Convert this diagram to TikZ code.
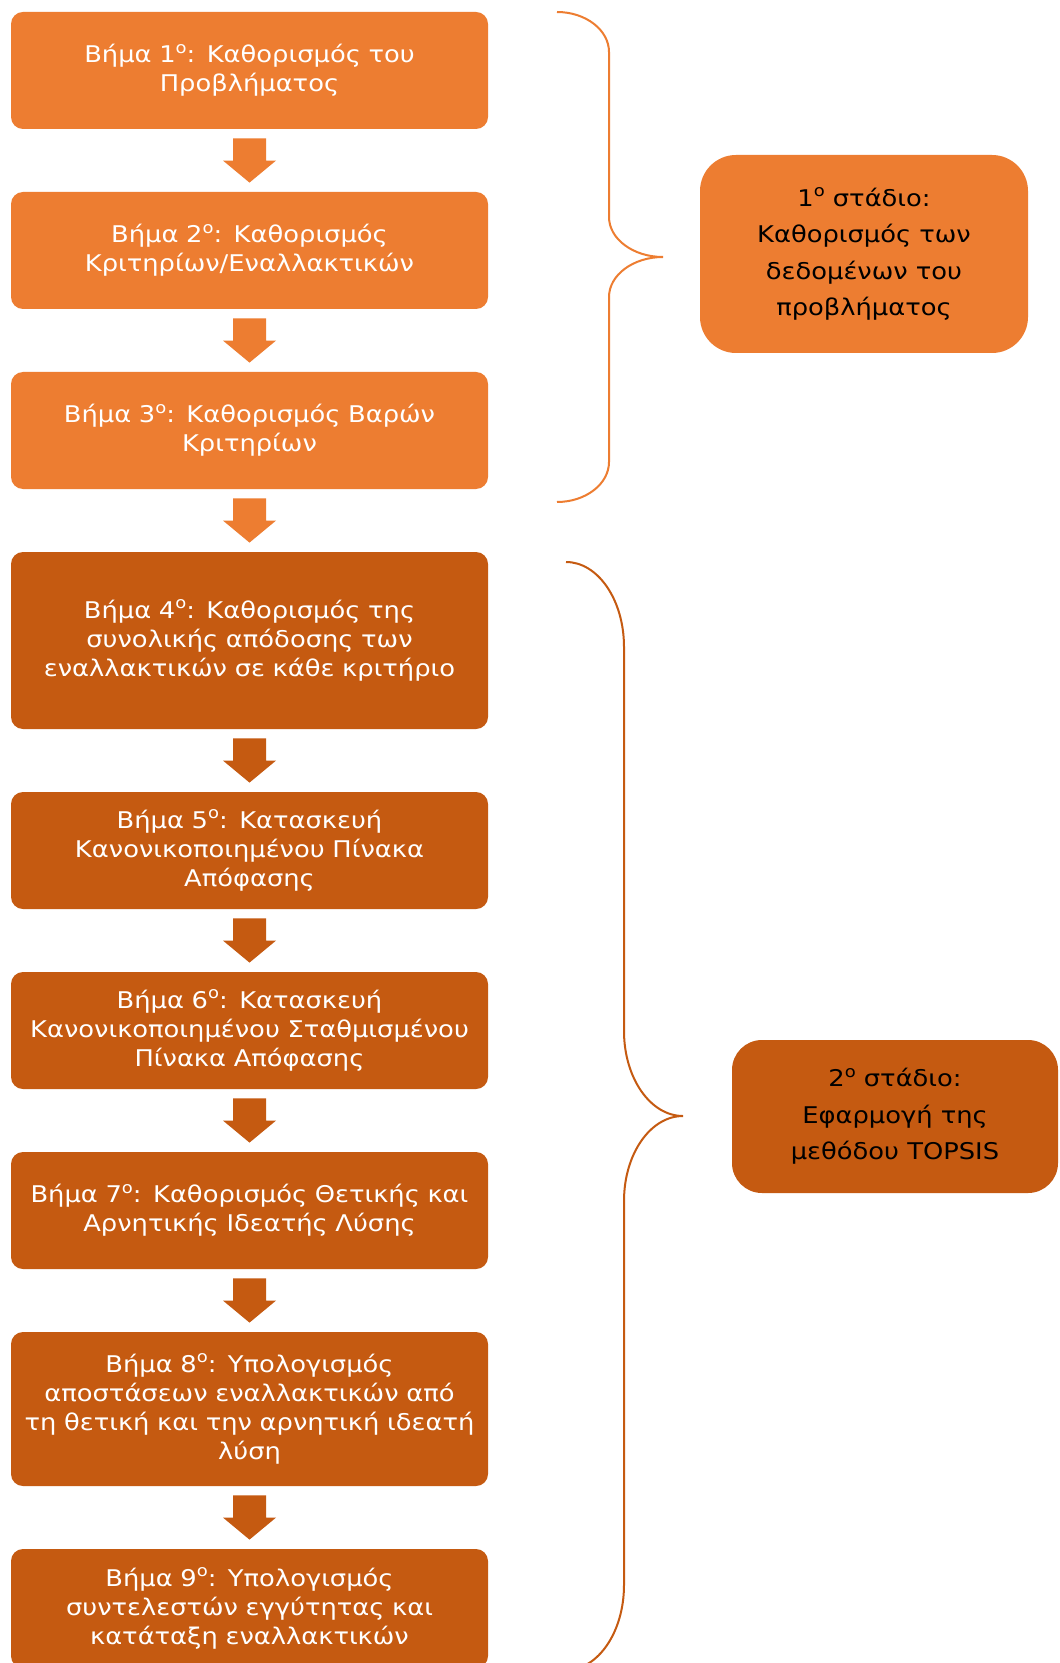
\documentclass[tikz,border=0pt]{standalone}
\usepackage{fontspec}
\setmainfont{DejaVu Sans}[FakeStretch=1.12]
\usetikzlibrary{calc}
\definecolor{lite}{HTML}{ED7D31}
\definecolor{dark}{HTML}{C55A11}
% small raised ordinal indicator
\newcommand\ordsup[1]{\raisebox{0.75ex}{\fontsize{8}{8}\selectfont #1}}
% block arrow between two stacked boxes
\newcommand\flowarrow[3]{%
  \fill[#3] let \p1=(#1.south), \p2=(#2.north) in
    (\x1-8.25pt,\y1-4.5pt) -- (\x1+8.25pt,\y1-4.5pt) -- (\x1+8.25pt,\y2+15.5pt)
    -- (\x1+13.25pt,\y2+15.5pt) -- (\x1,\y2+4.5pt) -- (\x1-13.25pt,\y2+15.5pt)
    -- (\x1-8.25pt,\y2+15.5pt) -- cycle;}
\begin{document}
\begin{tikzpicture}[x=0.5pt,y=-0.5pt,
  stepbox/.style={rounded corners=6pt, minimum width=238.5pt, minimum height=58.5pt,
    inner sep=0pt, text width=236pt, align=center, text=white,
    font=\fontsize{11.5}{14.5}\selectfont},
  litebox/.style={stepbox, fill=lite},
  darkbox/.style={stepbox, fill=dark},
  stagebox/.style={inner sep=0pt, align=center, text=black,
    font=\fontsize{11.5}{18.25}\selectfont},
  bracket/.style={line width=1pt}]
\useasboundingbox[fill=white] (0,0) rectangle (1059,1663);

% steps of the first stage
\node[litebox] (b1) at (249.5,70.5) {Βήμα 1\ordsup{ο}: Καθορισμός του\\Προβλήματος};
\node[litebox] (b2) at (249.5,250.5) {Βήμα 2\ordsup{ο}: Καθορισμός\\Κριτηρίων/Εναλλακτικών};
\node[litebox] (b3) at (249.5,430.5) {Βήμα 3\ordsup{ο}: Καθορισμός Βαρών\\Κριτηρίων};

% steps of the second stage
\node[darkbox, minimum height=88.5pt] (b4) at (249.5,640.5)
  {Βήμα 4\ordsup{ο}: Καθορισμός της\\συνολικής απόδοσης των\\εναλλακτικών σε κάθε κριτήριο};
\node[darkbox] (b5) at (249.5,850.5) {Βήμα 5\ordsup{ο}: Κατασκευή\\Κανονικοποιημένου Πίνακα\\Απόφασης};
\node[darkbox] (b6) at (249.5,1030.5) {Βήμα 6\ordsup{ο}: Κατασκευή\\Κανονικοποιημένου Σταθμισμένου\\Πίνακα Απόφασης};
\node[darkbox] (b7) at (249.5,1210.5) {Βήμα 7\ordsup{ο}: Καθορισμός Θετικής και\\Αρνητικής Ιδεατής Λύσης};
\node[darkbox, minimum height=77pt] (b8) at (249.5,1409)
  {Βήμα 8\ordsup{ο}: Υπολογισμός\\αποστάσεων εναλλακτικών από\\τη θετική και την αρνητική ιδεατή\\λύση};
\node[darkbox, minimum height=59.5pt] (b9) at (249.5,1608.5)
  {Βήμα 9\ordsup{ο}: Υπολογισμός\\συντελεστών εγγύτητας και\\κατάταξη εναλλακτικών};

% arrows between the steps
\flowarrow{b1}{b2}{lite}
\flowarrow{b2}{b3}{lite}
\flowarrow{b3}{b4}{lite}
\flowarrow{b4}{b5}{dark}
\flowarrow{b5}{b6}{dark}
\flowarrow{b6}{b7}{dark}
\flowarrow{b7}{b8}{dark}
\flowarrow{b8}{b9}{dark}

% stage labels
\node[stagebox, fill=lite, rounded corners=18pt, minimum width=164pt, minimum height=99pt] (s1)
  at (864,254) {1\ordsup{ο} στάδιο:\\Καθορισμός των\\δεδομένων του\\προβλήματος};
\node[stagebox, fill=dark, rounded corners=15pt, minimum width=163pt, minimum height=76.5pt] (s2)
  at (895,1116.5) {2\ordsup{ο} στάδιο:\\Εφαρμογή της\\μεθόδου TOPSIS};

% brackets grouping the steps
\coordinate (t1) at (663,257);
\draw[bracket, lite] (557,12) .. controls (585.7,12) and (609,30) .. (609,52)
  -- (609,217) .. controls (609,239) and (633.2,257) .. (t1)
  .. controls (633.2,257) and (609,275) .. (609,297)
  -- (609,462) .. controls (609,484) and (585.7,502) .. (557,502);
\coordinate (t2) at (683,1116);
\draw[bracket, dark] (566,562) .. controls (598,562) and (624,600) .. (624,647)
  -- (624,1031) .. controls (624,1078) and (650.4,1116) .. (t2)
  .. controls (650.4,1116) and (624,1154) .. (624,1201)
  -- (624,1585) .. controls (624,1632) and (598,1670) .. (566,1670);
\end{tikzpicture}
\end{document}
